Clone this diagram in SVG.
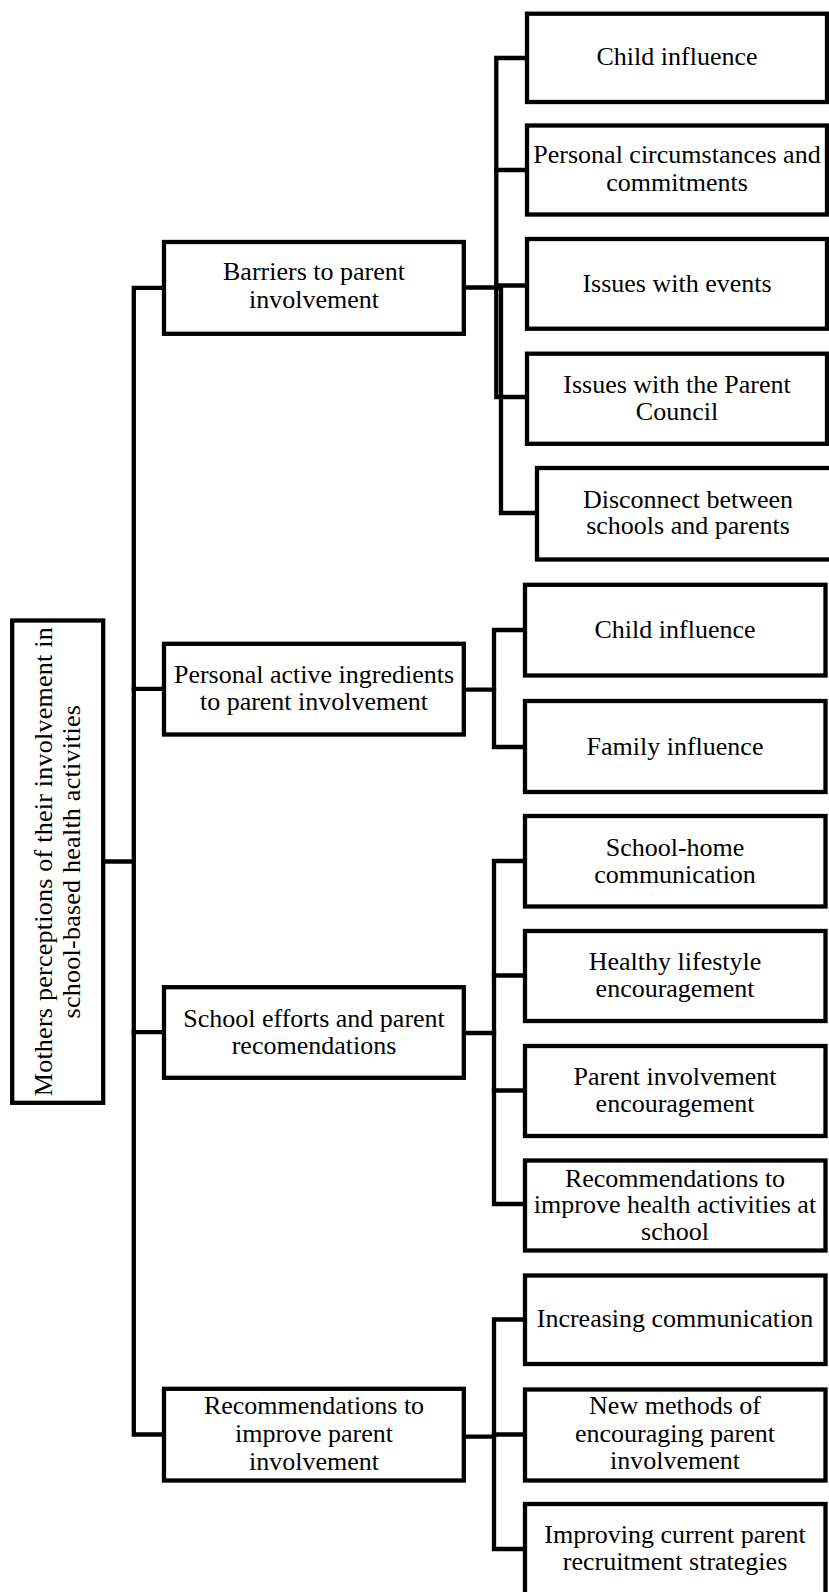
<svg xmlns="http://www.w3.org/2000/svg" width="829" height="1592" viewBox="0 0 829 1592">
<style>
.box{fill:#fff;stroke:#000;stroke-width:4.3;stroke-linejoin:miter}
.con{fill:none;stroke:#000;stroke-width:4.3;stroke-linejoin:miter;stroke-linecap:square}
text{font-family:"Liberation Serif","Times New Roman",serif;font-size:26px;fill:#000;text-anchor:middle}
.root{letter-spacing:0.25px}
</style>
<rect width="829" height="1592" fill="#fff"/>
<g id="connectors">
<path class="con" d="M103.2,861.5 H133.8"/>
<path class="con" d="M164,287.8 H133.8 V1434.5 H164"/>
<path class="con" d="M133.8,688.8 H164"/>
<path class="con" d="M133.8,1032.2 H164"/>
<path class="con" d="M527,58 H496.3 V397 H527"/>
<path class="con" d="M496.3,170 H527"/>
<path class="con" d="M496.3,285.5 H527"/>
<path class="con" d="M464,287.5 H501 V513 H537"/>
<path class="con" d="M464,689.7 H494"/>
<path class="con" d="M525,630 H494 V747 H525"/>
<path class="con" d="M464,1033 H494"/>
<path class="con" d="M525,861 H494 V1204 H525"/>
<path class="con" d="M494,975.5 H525"/>
<path class="con" d="M494,1090.5 H525"/>
<path class="con" d="M464,1436.7 H494"/>
<path class="con" d="M525,1319.5 H494 V1549 H525"/>
<path class="con" d="M494,1434.5 H525"/>
</g>
<g id="root">
<rect class="box" x="12.2" y="620.5" width="91" height="482.3"/>
<text class="root" transform="translate(57.7,861.6) rotate(-90)"><tspan x="0" y="-6">Mothers perceptions of their involvement in</tspan><tspan x="0" y="22.3">school-based health activities</tspan></text>
</g>
<g id="barriers">
<rect class="box" x="164" y="242" width="299.8" height="91.8"/>
<text><tspan x="314" y="280">Barriers to parent</tspan><tspan x="314" y="307.7">involvement</tspan></text>
</g>
<g id="personal-active">
<rect class="box" x="164" y="643.8" width="299.8" height="90.7"/>
<text><tspan x="314" y="683.3">Personal active ingredients</tspan><tspan x="314" y="710">to parent involvement</tspan></text>
</g>
<g id="school-efforts">
<rect class="box" x="164" y="987.2" width="299.8" height="90.6"/>
<text><tspan x="314" y="1027.3">School efforts and parent</tspan><tspan x="314" y="1054">recomendations</tspan></text>
</g>
<g id="recommendations-parent">
<rect class="box" x="164" y="1388.8" width="299.8" height="91.7"/>
<text><tspan x="314" y="1414">Recommendations to</tspan><tspan x="314" y="1441.7">improve parent</tspan><tspan x="314" y="1469.5">involvement</tspan></text>
</g>
<g id="b-child">
<rect class="box" x="527" y="13.7" width="300" height="88.3"/>
<text x="677" y="65">Child influence</text>
</g>
<g id="b-personal">
<rect class="box" x="527" y="125.5" width="300" height="89"/>
<text><tspan x="677" y="163.3">Personal circumstances and</tspan><tspan x="677" y="190.5">commitments</tspan></text>
</g>
<g id="b-events">
<rect class="box" x="527" y="239" width="300" height="89.7"/>
<text x="677" y="291.7">Issues with events</text>
</g>
<g id="b-council">
<rect class="box" x="527" y="353.7" width="300" height="90.1"/>
<text><tspan x="677" y="393">Issues with the Parent</tspan><tspan x="677" y="420.3">Council</tspan></text>
</g>
<g id="b-disconnect">
<rect class="box" x="537" y="468" width="302" height="91.5"/>
<text><tspan x="688" y="508.3">Disconnect between</tspan><tspan x="688" y="534.3">schools and parents</tspan></text>
</g>
<g id="p-child">
<rect class="box" x="525" y="584.8" width="300.5" height="90.7"/>
<text x="675" y="638">Child influence</text>
</g>
<g id="p-family">
<rect class="box" x="525" y="701" width="300.5" height="91"/>
<text x="675" y="755">Family influence</text>
</g>
<g id="s-school-home">
<rect class="box" x="525" y="816" width="300.5" height="90.5"/>
<text><tspan x="675" y="856">School-home</tspan><tspan x="675" y="882.7">communication</tspan></text>
</g>
<g id="s-healthy">
<rect class="box" x="525" y="931" width="300.5" height="90"/>
<text><tspan x="675" y="970">Healthy lifestyle</tspan><tspan x="675" y="997">encouragement</tspan></text>
</g>
<g id="s-parent">
<rect class="box" x="525" y="1046" width="300.5" height="90"/>
<text><tspan x="675" y="1085">Parent involvement</tspan><tspan x="675" y="1112">encouragement</tspan></text>
</g>
<g id="s-rec-health">
<rect class="box" x="525" y="1160.5" width="300.5" height="90"/>
<text><tspan x="675" y="1186.6">Recommendations to</tspan><tspan x="675" y="1213.3">improve health activities at</tspan><tspan x="675" y="1240">school</tspan></text>
</g>
<g id="r-increasing">
<rect class="box" x="525" y="1275.5" width="300.5" height="88.5"/>
<text x="675" y="1327.3">Increasing communication</text>
</g>
<g id="r-new-methods">
<rect class="box" x="525" y="1389.5" width="300.5" height="91"/>
<text><tspan x="675" y="1413.5">New methods of</tspan><tspan x="675" y="1441.5">encouraging parent</tspan><tspan x="675" y="1469.3">involvement</tspan></text>
</g>
<g id="r-improving">
<rect class="box" x="525" y="1504" width="300.5" height="91"/>
<text><tspan x="675" y="1542.7">Improving current parent</tspan><tspan x="675" y="1570">recruitment strategies</tspan></text>
</g>
</svg>
